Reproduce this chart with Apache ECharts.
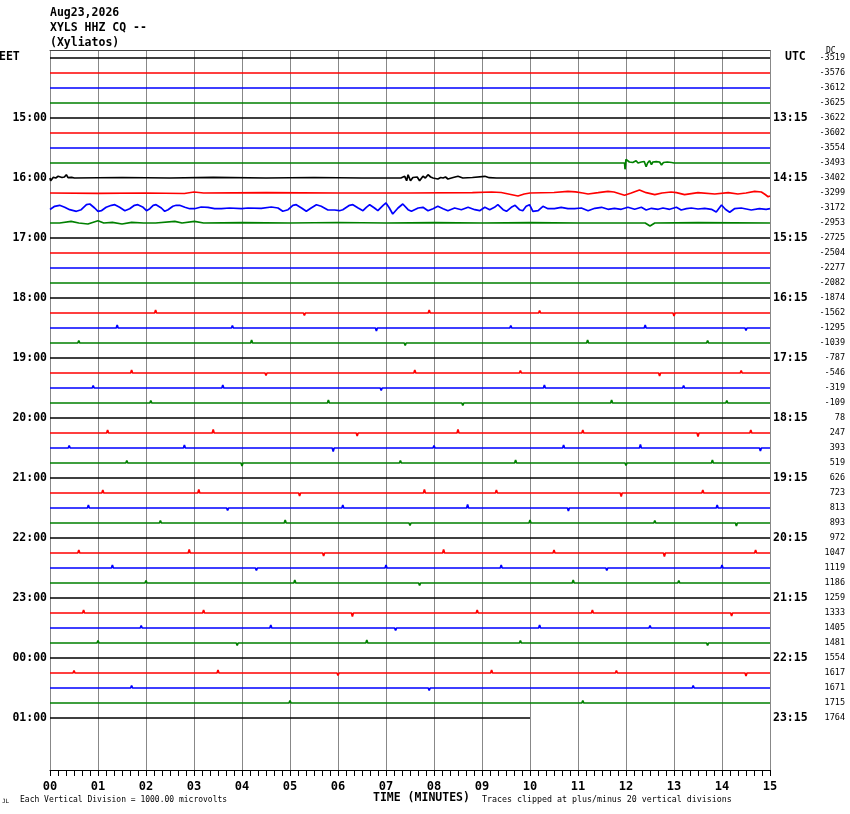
<!DOCTYPE html>
<html><head><meta charset="utf-8">
<script src="https://cdn.jsdelivr.net/npm/echarts@6/dist/echarts.min.js"></script>
<style>html,body{margin:0;padding:0;background:#fff}#c{width:850px;height:814px}</style>
</head><body><div id="c"></div><script>
// ---------- data ----------
const headerLines = ['Aug23,2026', 'XYLS HHZ CQ --', '(Xyliatos)'];
const leftHourLabels = ['15:00','16:00','17:00','18:00','19:00','20:00','21:00','22:00','23:00','00:00','01:00'];
const rightHourLabels = ['13:15','14:15','15:15','16:15','17:15','18:15','19:15','20:15','21:15','22:15','23:15'];
const dcValues = [-3519,-3576,-3612,-3625,-3622,-3602,-3554,-3493,-3402,-3299,-3172,-2953,
  -2725,-2504,-2277,-2082,-1874,-1562,-1295,-1039,-787,-546,-319,-109,78,247,393,519,626,723,
  813,893,972,1047,1119,1186,1259,1333,1405,1481,1554,1617,1671,1715,1764];
const traceColors = ['#000000', '#ff0000', '#0000ff', '#008000'];
const minuteLabels = ['00','01','02','03','04','05','06','07','08','09','10','11','12','13','14','15'];
const lastRowEndMinute = 10;

// active traces: [minute, offset in pixels (positive = up)]
const trace7 = [[0,0],[2.28,0],[2.3,1.5],[2.32,0],[5.08,0],[5.1,1.5],[5.12,0],[6.98,0],[7.0,-1.5],[7.02,0],[9.38,0],[9.4,1.5],[9.42,0],[11.97,0],[11.98,-6.3],[12.0,3.7],[12.04,5.7],[12.07,1],[12.1,-1],[12.14,0.5],[12.17,-1.5],[12.21,2.3],[12.25,0],[12.28,-2],[12.32,1],[12.35,-1],[12.38,1.5],[12.42,-3.7],[12.45,0],[12.49,2.3],[12.53,-1.5],[12.56,1],[12.6,-1],[12.63,1.3],[12.67,-0.5],[12.7,1],[12.74,-2],[12.78,0.5],[12.82,-1],[12.86,1],[12.9,-0.7],[12.95,0.5],[13.0,0],[13.28,0],[13.3,1.5],[13.32,0],[14.08,0],[14.1,1.5],[14.12,0],[15,0]];
const trace8 = [[0,0],[0.014,-2.7],[0.07,0.7],[0.12,0],[0.17,1.7],[0.25,0.5],[0.3,1],[0.34,3.3],[0.375,0.3],[0.45,0.7],[0.51,0],[1.5,0.5],[2.5,0],[3.4,0.7],[4.5,0],[5.5,0.5],[6.5,0],[7.31,0],[7.39,1.7],[7.43,-2.7],[7.46,3.3],[7.51,-2.7],[7.56,0.5],[7.60,0],[7.65,1],[7.70,-2.7],[7.77,1.7],[7.82,0],[7.875,3.3],[7.93,1],[7.98,0],[8.08,-1],[8.14,0.5],[8.19,0],[8.24,1],[8.29,-1],[8.4,0.5],[8.5,1.7],[8.6,0],[8.8,0.5],[9.06,1.7],[9.15,0.3],[9.3,0],[15,0]];
const trace9 = [[0,0],[1.0,-0.3],[2.0,0],[2.8,-0.5],[3.0,1],[3.2,0],[4.5,0.3],[6,0],[7.5,0],[8.8,0.3],[9.2,1],[9.4,0.5],[9.6,-1.5],[9.75,-3],[9.88,-1],[10.0,0],[10.5,0.5],[10.79,1.7],[10.95,1.2],[11.1,0],[11.21,-1],[11.42,0.3],[11.625,1.7],[11.75,1],[11.97,-2.3],[12.11,0],[12.28,3],[12.42,0.3],[12.6,-1.7],[12.75,0],[12.94,1],[13.05,0.3],[13.22,-1.7],[13.5,0.3],[13.85,-1],[14.13,0.3],[14.33,-1],[14.5,0],[14.68,1.7],[14.82,1],[14.9,-1.5],[14.96,-3.7],[15,-3]];
const trace10 = [[0,-1.5],[0.028,-2.7],[0.097,1.7],[0.2,2.7],[0.306,0.7],[0.41,-1.7],[0.55,-3.3],[0.65,-1.7],[0.76,3.3],[0.83,4],[0.93,0],[1.0,-3.3],[1.07,-2.7],[1.17,0.7],[1.28,2.7],[1.35,3.3],[1.45,0.7],[1.56,-2.7],[1.66,-0.7],[1.76,2.7],[1.83,3.3],[1.94,0.7],[2.01,-2.7],[2.08,-0.7],[2.15,2.7],[2.21,3.3],[2.32,0],[2.39,-3.3],[2.46,-1.7],[2.56,1.7],[2.63,2.7],[2.70,2.7],[2.81,0.7],[2.91,-0.7],[3.01,-0.7],[3.05,0.7],[3.15,1],[3.29,0.7],[3.43,-0.7],[3.57,-0.7],[3.74,0],[3.99,-0.7],[4.125,0],[4.40,-0.3],[4.61,1],[4.75,0],[4.85,-3.3],[4.96,-1.7],[5.06,2.7],[5.13,3.3],[5.24,0],[5.34,-3.3],[5.44,0],[5.55,3.3],[5.65,1.7],[5.79,-2],[5.93,-2],[6.03,-2.7],[6.10,-1.7],[6.24,2.7],[6.31,3.3],[6.42,0],[6.52,-2.7],[6.59,0.7],[6.66,3.3],[6.76,0],[6.83,-2.7],[6.94,2.7],[7.0,5],[7.07,0],[7.14,-6],[7.25,0],[7.35,4],[7.46,-1.7],[7.53,-3.3],[7.67,0],[7.77,0.7],[7.875,-2.7],[7.98,-0.7],[8.08,1.7],[8.19,-0.7],[8.29,-2.7],[8.43,0],[8.57,-1.7],[8.71,0.7],[8.85,-1.7],[8.95,-2.7],[9.06,0.7],[9.16,-1.7],[9.26,0.7],[9.33,3.3],[9.44,-1.7],[9.51,-3.3],[9.61,0.7],[9.69,2.7],[9.78,-1.7],[9.85,-2.7],[9.92,1.7],[9.99,3.3],[10.06,-3.3],[10.17,-2.7],[10.27,1.7],[10.375,-0.7],[10.51,-0.7],[10.65,0.7],[10.79,-0.7],[10.93,-0.7],[11.07,0],[11.21,-2.7],[11.35,-0.3],[11.49,0.7],[11.625,-1.3],[11.76,-0.3],[11.90,-1.3],[12.04,0.7],[12.18,-1.3],[12.32,0.7],[12.42,-2],[12.53,-0.3],[12.67,-1.3],[12.77,0],[12.91,-1.3],[13.05,0.7],[13.15,-2],[13.26,-0.7],[13.36,0],[13.50,-1],[13.64,-0.3],[13.78,-1.3],[13.88,-4],[13.99,3],[14.07,-1.3],[14.16,-4.3],[14.26,-0.7],[14.40,0],[14.61,-2],[14.78,-0.7],[14.92,-1.3],[15,-0.7]];
const trace11 = [[0,0],[0.03,1],[0.2,0],[0.44,1.7],[0.6,0],[0.79,-1],[1.0,2.3],[1.12,0],[1.3,0.7],[1.5,-1],[1.7,0.7],[1.95,0],[2.2,0],[2.6,1.7],[2.75,0],[3.01,1.7],[3.2,0],[4,0.3],[5,0],[6,0.5],[7,0],[8,0.3],[9,0],[10,0.3],[11,0],[12.4,0],[12.5,-3],[12.6,0],[13.5,0.3],[15,0]];
const activeTraces = {7: trace7, 8: trace8, 9: trace9, 10: trace10, 11: trace11};

// quiet traces: small spikes [minute, pixels]
const quietSpikes = [
  [[0.8,2],[2.4,-2],[4.1,2],[5.2,1.5],[6.3,2],[7.8,-1.5],[9.2,-2],[10.5,1.5],[11.6,2],[13.9,2]],
  [[1.5,2],[3.9,-2],[5.8,1.5],[7.2,2],[9.1,-1.5],[10.4,2],[12.8,-2],[14.3,1.5]],
  [[0.5,2],[2.9,2],[4.0,-1.5],[5.5,-2],[6.9,1.5],[8.1,2],[11.0,2],[12.4,-1.5],[14.2,-2]],
  [[1.1,2],[2.6,-1.5],[4.6,2],[6.2,1.5],[7.7,-2],[9.3,1.5],[10.9,2],[13.3,2]],
  [[2.0,2],[5.0,-2],[6.5,1.5],[8.4,2],[10.2,-1.5],[12.1,2]],
  [[1.8,2],[4.3,1.5],[6.6,-2],[9.9,2],[11.4,-1.5],[13.1,2]],
  [[0.9,2],[2.7,-1.5],[4.4,2],[6.7,1.5],[8.9,-2],[10.8,1.5],[12.5,2]],
  null, null, null, null, null,
  [[1.6,2],[3.2,-1.5],[4.9,2],[6.5,1.5],[8.2,-2],[11.8,2],[14.3,2]],
  [[2.7,2],[4.4,-1.5],[6.0,2],[9.5,-2],[11.1,1.5],[12.9,2]],
  [[1.3,2],[3.4,1.5],[5.6,-2],[8.8,2],[10.4,-1.5],[12.2,2]],
  [[0.7,2],[3.3,-2],[5.0,1.5],[7.1,2],[10.6,2],[13.6,2]],
  [[1.9,2],[4.7,-2],[6.4,1.5],[8.3,2],[11.4,2],[13.8,-1.5]],
  [[2.2,3],[5.3,-2.5],[7.9,3],[10.2,2.5],[13.0,-3]],
  [[1.4,3],[3.8,2.5],[6.8,-3],[9.6,2.5],[12.4,3],[14.5,-2.5]],
  [[0.6,2.5],[4.2,3],[7.4,-2.5],[11.2,3],[13.7,2.5]],
  [[2.5,2],[4.4,-1.5],[6.2,-2],[8.2,1.5],[10.1,2],[13.4,2]],
  [[1.7,3],[4.5,-2.5],[7.6,3],[9.8,2.5],[12.7,-3],[14.4,2.5]],
  [[0.9,2.5],[3.6,3],[6.9,-2.5],[10.3,3],[13.2,2.5]],
  [[2.1,2.5],[5.8,3],[8.6,-2.5],[11.7,3],[14.1,2.5]],
  [[1.0,2],[3.0,-1.5],[4.8,-2],[7.1,1.5],[9.0,2],[12.6,2]],
  [[1.2,3],[3.4,3.5],[6.4,-3],[8.5,3.5],[11.1,3],[13.5,-3.5],[14.6,3]],
  [[0.4,2.5],[2.8,3],[5.9,-3.5],[8.0,2.5],[10.7,3],[12.3,3.5],[14.8,-3]],
  [[1.6,2.5],[4.0,-3],[7.3,2.5],[9.7,3],[12.0,-2.5],[13.8,3]],
  [[2.6,2],[4.5,1.5],[6.7,-2],[9.0,1.5],[11.5,2]],
  [[1.1,3],[3.1,3.5],[5.2,-3],[7.8,3.5],[9.3,3],[11.9,-3.5],[13.6,3]],
  [[0.8,3],[3.7,-2.5],[6.1,3],[8.7,3.5],[10.8,-3],[13.9,3]],
  [[2.3,2.5],[4.9,3],[7.5,-2.5],[10.0,3],[12.6,2.5],[14.3,-3]],
  [[1.5,2],[3.6,1.5],[5.4,-2],[9.1,2],[11.2,-1.5],[13.3,2]],
  [[0.6,3],[2.9,3.5],[5.7,-3],[8.2,3.5],[10.5,3],[12.8,-3.5],[14.7,3]],
  [[1.3,3],[4.3,-2.5],[7.0,3],[9.4,3],[11.6,-2.5],[14.0,3]],
  [[2.0,2.5],[5.1,3],[7.7,-2.5],[10.9,3],[13.1,2.5]],
  [[1.8,2],[4.2,1.5],[6.5,-2],[10.4,2],[12.9,2]],
  [[0.7,3],[3.2,3],[6.3,-3.5],[8.9,3],[11.3,3],[14.2,-3]],
  [[1.9,2.5],[4.6,3],[7.2,-2.5],[10.2,3],[12.5,2.5]],
  [[1.0,2.5],[3.9,-2.5],[6.6,3],[9.8,2.5],[13.7,-2.5]],
  [[2.4,2],[5.5,-2],[7.0,1.5],[8.8,2],[12.2,2]],
  [[0.5,2.5],[3.5,3],[6.0,-2.5],[9.2,3],[11.8,2.5],[14.5,-3]],
  [[1.7,2.5],[4.1,2],[7.9,-2.5],[10.6,2],[13.4,2.5]],
  [[2.2,2],[5.0,2.5],[8.4,-2],[11.1,2.5],[14.0,2]],
  [[1.4,2],[3.0,1.5],[4.7,-2],[7.6,2],[9.5,2]]
];

// ---------- chart ----------
const MONO = "'DejaVu Sans Mono', monospace";
const ROW_PX = 15;
const nRows = dcValues.length;
const yMin = -8 / ROW_PX, yMax = 712 / ROW_PX;
const hourRows = leftHourLabels.map((_, i) => (i + 1) * 4);
const allRows = dcValues.map((_, i) => i);

const series = [];
for (let r = 0; r < nRows; r++) {
  let pts;
  const end = r === nRows - 1 ? lastRowEndMinute : 15;
  if (activeTraces[r]) {
    pts = activeTraces[r];
  } else {
    pts = [[0, 0]];
    for (const [m, a] of quietSpikes[r]) pts.push([m - 0.02, 0], [m, a], [m + 0.02, 0]);
    pts.push([end, 0]);
  }
  series.push({
    type: 'line', xAxisIndex: 0, yAxisIndex: 0,
    data: pts.map(([m, a]) => [m, r - a / ROW_PX]),
    symbol: 'none', showSymbol: false, silent: true, animation: false,
    lineStyle: { color: traceColors[r % 4], width: 1.7 }
  });
}

const yBase = { type: 'value', min: yMin, max: yMax, inverse: true,
  axisLine: { show: false }, axisTick: { show: false }, splitLine: { show: false } };

const chart = echarts.init(document.getElementById('c'), null, { renderer: 'canvas' });
chart.setOption({
  backgroundColor: '#ffffff',
  animation: false,
  title: {
    text: headerLines.join('\n'), left: 50, top: 6, padding: 0,
    textStyle: { fontFamily: MONO, fontWeight: 'bold', fontSize: 11.5, lineHeight: 15, color: '#000' }
  },
  grid: { left: 50, right: 80, top: 50, bottom: 44, containLabel: false },
  xAxis: [
    { type: 'value', min: 0, max: 15, interval: 1, position: 'bottom',
      axisLine: { show: true, onZero: false, lineStyle: { color: '#000', width: 1 } },
      axisTick: { show: true, length: 6, lineStyle: { color: '#000' } },
      minorTick: { show: true, splitNumber: 6, length: 6, lineStyle: { color: '#000' } },
      splitLine: { show: true, lineStyle: { color: '#888888', width: 1 } },
      axisLabel: { formatter: v => minuteLabels[Math.round(v)], color: '#000', fontFamily: MONO,
        fontWeight: 'bold', fontSize: 12, margin: 11 } },
    { type: 'value', min: 0, max: 15, position: 'top',
      axisLine: { show: true, onZero: false, lineStyle: { color: '#444', width: 1 } },
      axisTick: { show: false }, axisLabel: { show: false }, splitLine: { show: false } }
  ],
  yAxis: [
    Object.assign({}, yBase, { position: 'left',
      axisLabel: { customValues: hourRows, formatter: v => leftHourLabels[Math.round(v) / 4 - 1],
        color: '#000', fontFamily: MONO, fontWeight: 'bold', fontSize: 11.5, margin: 3 } }),
    Object.assign({}, yBase, { position: 'right',
      axisLabel: { customValues: hourRows, formatter: v => rightHourLabels[Math.round(v) / 4 - 1],
        color: '#000', fontFamily: MONO, fontWeight: 'bold', fontSize: 11.5, margin: 3 } }),
    Object.assign({}, yBase, { position: 'right',
      axisLabel: { customValues: allRows, formatter: v => String(dcValues[Math.round(v)]),
        align: 'right', color: '#000', fontFamily: MONO, fontSize: 8.5, margin: 75 } })
  ],
  graphic: [
    { type: 'text', left: -1, top: 51, style: { text: 'EET', font: "bold 11.5px 'DejaVu Sans Mono'", fill: '#000' } },
    { type: 'text', left: 785, top: 51, style: { text: 'UTC', font: "bold 11.5px 'DejaVu Sans Mono'", fill: '#000' } },
    { type: 'text', left: 826, top: 47, style: { text: 'DC', font: "8px 'DejaVu Sans Mono'", fill: '#000' } },
    { type: 'text', left: 2, top: 798, style: { text: 'JL', font: "6px 'DejaVu Sans Mono'", fill: '#000' } },
    { type: 'text', left: 20, top: 796, style: { text: 'Each Vertical Division = 1000.00 microvolts', font: "8px 'DejaVu Sans Mono'", fill: '#000' } },
    { type: 'text', left: 373, top: 792, style: { text: 'TIME (MINUTES)', font: "bold 11.5px 'DejaVu Sans Mono'", fill: '#000' } },
    { type: 'text', left: 482, top: 796, style: { text: 'Traces clipped at plus/minus 20 vertical divisions', font: "8.3px 'DejaVu Sans Mono'", fill: '#000' } }
  ],
  series: series
});
</script></body></html>
